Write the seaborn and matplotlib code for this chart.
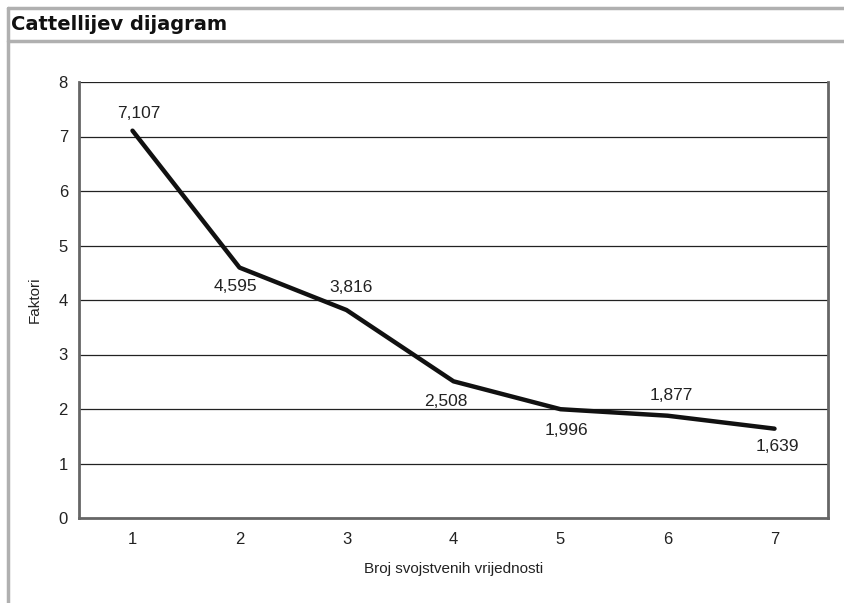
import pandas as pd
import matplotlib.pyplot as plt
import matplotlib.lines as mlines
import seaborn as sns

# Cattell scree plot values
broj = [1, 2, 3, 4, 5, 6, 7]
faktori = [7.107, 4.595, 3.816, 2.508, 1.996, 1.877, 1.639]
labels = ['7,107', '4,595', '3,816', '2,508', '1,996', '1,877', '1,639']

# label offsets in pixels (style only)
label_off = [(6, 17), (-4, -19), (5, 23), (-8, -20), (6, -21), (4, 20), (3, -18)]

df = pd.DataFrame({'Broj': broj, 'Faktori': faktori})

sns.set_style('white')
plt.rcParams['font.family'] = ['Liberation Sans', 'DejaVu Sans']

fig = plt.figure(figsize=(8.44, 6.03), dpi=100)
ax = fig.add_axes([79 / 844, 1 - 518 / 603, (828 - 79) / 844, (518 - 82) / 603])

# frame around title
grey = '#b0b0b0'
fig.add_artist(mlines.Line2D([8 / 844, 1], [1 - 8 / 603] * 2, color=grey, lw=2.5))
fig.add_artist(mlines.Line2D([8 / 844, 1], [1 - 41 / 603] * 2, color=grey, lw=2.5))
fig.add_artist(mlines.Line2D([8 / 844] * 2, [0, 1 - 8 / 603], color=grey, lw=2.5))
fig.text(11 / 844, 1 - 25 / 603, 'Cattellijev dijagram', fontsize=14,
         fontweight='bold', va='center', ha='left', color='#111111',
         family='DejaVu Sans')

sns.lineplot(data=df, x='Broj', y='Faktori', ax=ax, color='#111111', lw=3.2)

for x, y, t, off in zip(broj, faktori, labels, label_off):
    ax.annotate(t, (x, y), xytext=off, textcoords='offset pixels',
                ha='center', va='center', fontsize=12.5, color='#222222')

ax.set_xlim(0.5, 7.5)
ax.set_ylim(0, 8)
ax.set_yticks(range(0, 9))
ax.set_xticks(broj)
ax.set_xticks([b + 0.5 for b in [0] + broj], minor=True)
ax.tick_params(axis='x', which='major', length=0, pad=10, labelsize=12, colors='#222222')
ax.tick_params(axis='x', which='minor', length=5, width=1.5, color='#555555', direction='out')
ax.tick_params(axis='y', length=5, width=1.5, color='#555555', direction='out',
               labelsize=12, labelcolor='#222222', pad=3)
for v in range(1, 9):
    ax.axhline(v, color='#222222', lw=0.9, zorder=0)

for s in ['left', 'bottom', 'right']:
    ax.spines[s].set_color('#666666')
    ax.spines[s].set_linewidth(2)
ax.spines['top'].set_visible(False)

ax.set_xlabel('Broj svojstvenih vrijednosti', fontsize=11, labelpad=11, color='#222222')
ax.set_ylabel('Faktori', fontsize=11, labelpad=12, color='#222222')

fig.savefig('out.png', dpi=100)
